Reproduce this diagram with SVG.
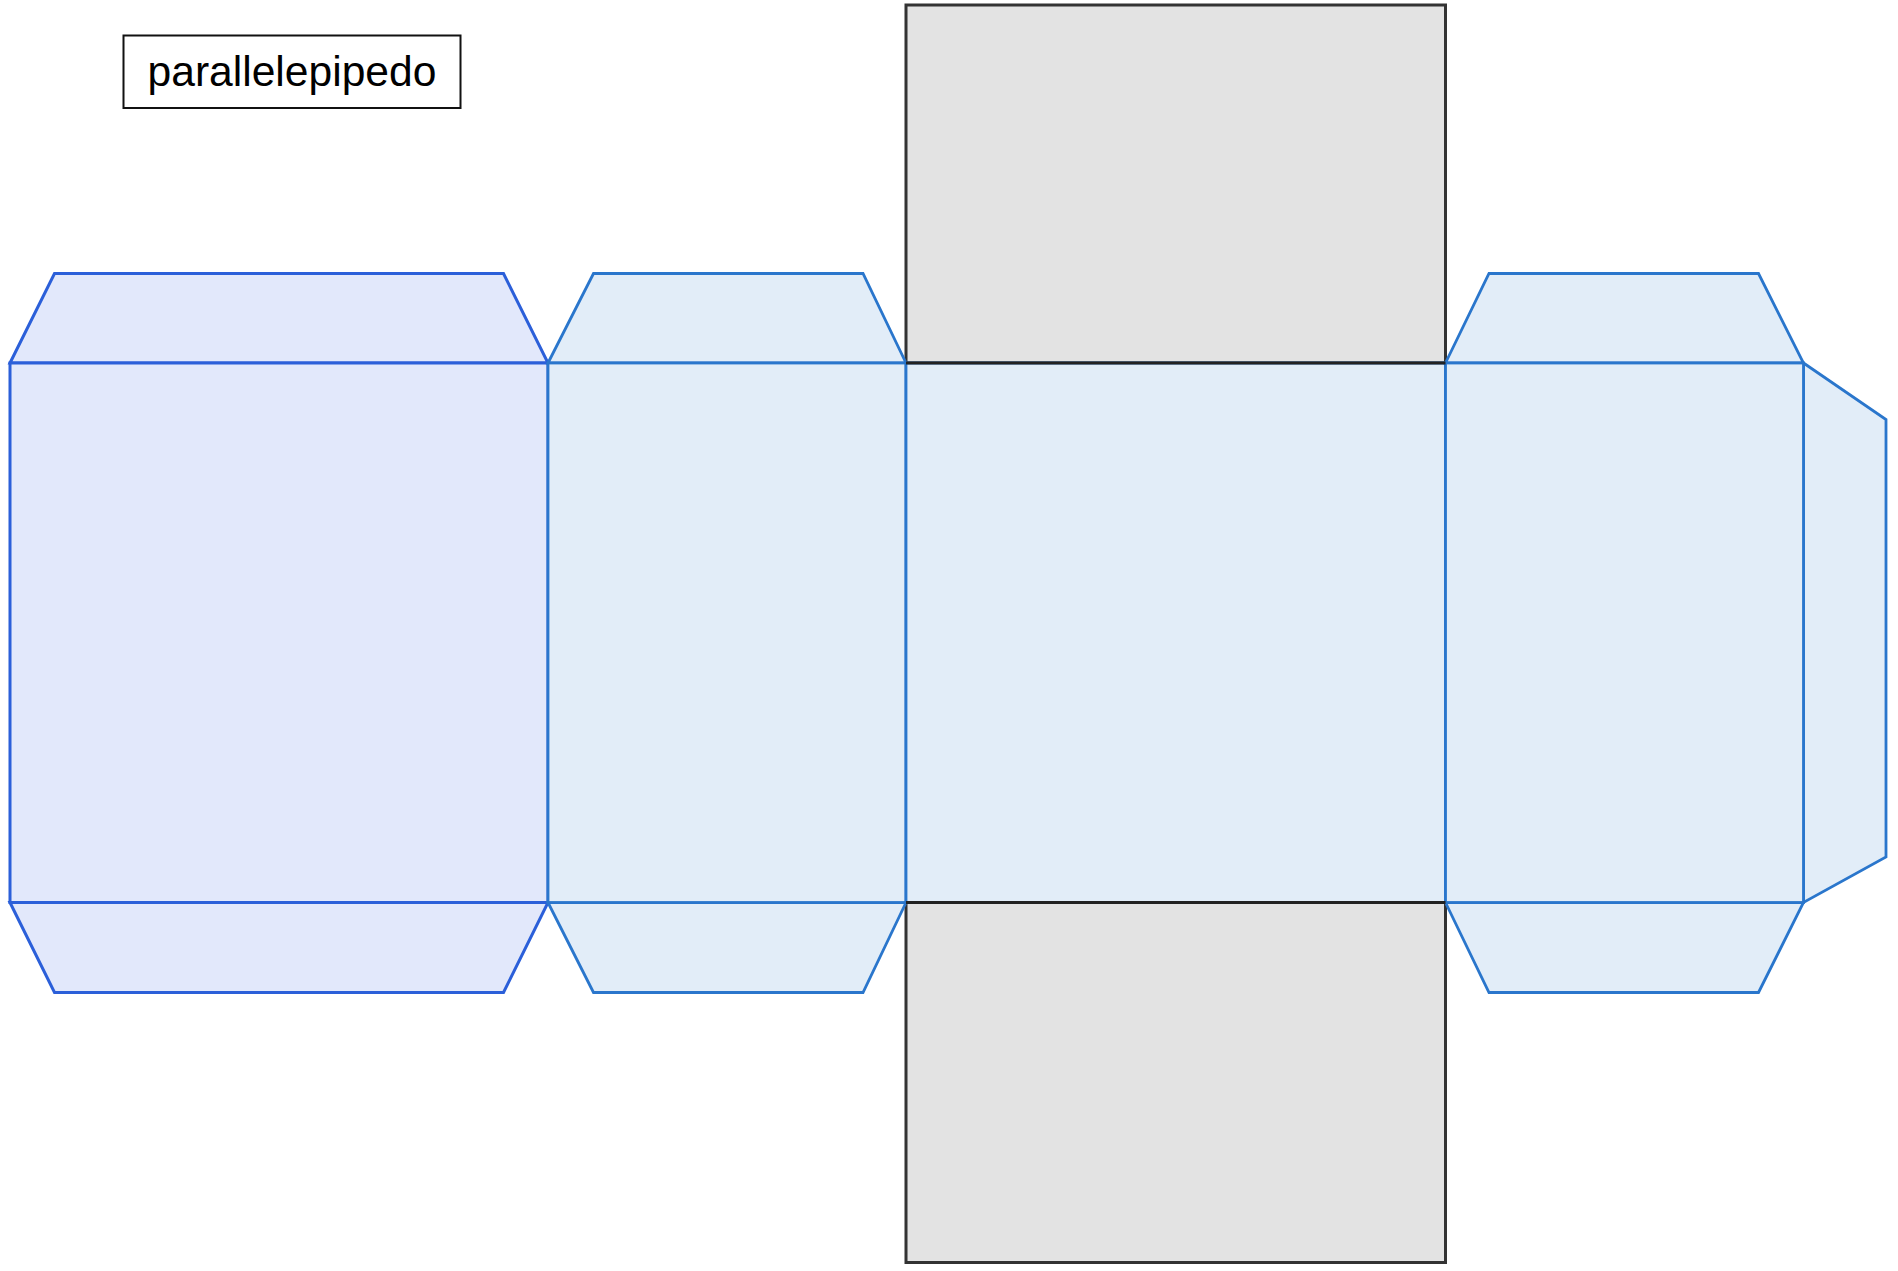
<svg xmlns="http://www.w3.org/2000/svg" width="1898" height="1271" viewBox="0 0 1898 1271">
<style>
.a{fill:#e2e8fb;stroke:#2b5fd9;stroke-width:3;stroke-linejoin:miter}
.b{fill:#e2edf8;stroke:#2a76cc;stroke-width:2.800;stroke-linejoin:miter}
.g{fill:#e3e3e3;stroke:#333333;stroke-width:3}
.l{font-family:"Liberation Sans",Arial,sans-serif;font-size:42.6px;fill:#000}
</style>
<rect width="1898" height="1271" fill="#fff"/>
<g id="label"><rect x="123.500" y="35.500" width="337" height="72.500" fill="#fff" stroke="#111" stroke-width="2"/><text class="l" x="147.500" y="86">parallelepipedo</text></g>
<g id="top-gray"><rect class="g" x="906" y="5" width="539.500" height="358"/></g>
<g id="bottom-gray"><rect class="g" x="906" y="902.500" width="539.500" height="360"/></g>
<g id="left-top-flap"><polygon class="a" points="10,363 54.500,273.500 503.500,273.500 548,363"/></g>
<g id="left-bottom-flap"><polygon class="a" points="10,902.500 54.500,992.500 503.500,992.500 548,902.500"/></g>
<g id="left-face"><rect class="a" x="10" y="363" width="538" height="539.500"/></g>
<g id="second-top-flap"><polygon class="b" points="548,363 593.500,273.500 863,273.500 906,363"/></g>
<g id="second-bottom-flap"><polygon class="b" points="548,902.500 593.500,992.500 863,992.500 906,902.500"/></g>
<g id="second-face"><rect class="b" x="548" y="363" width="358" height="539.500"/></g>
<g id="center-face"><rect class="b" x="906" y="363" width="539.500" height="539.500"/></g>
<g id="fourth-top-flap"><polygon class="b" points="1445.500,363 1489,273.500 1758.500,273.500 1803.500,363"/></g>
<g id="fourth-bottom-flap"><polygon class="b" points="1445.500,902.500 1489,992.500 1758.500,992.500 1803.500,902.500"/></g>
<g id="side-flap"><polygon class="b" points="1803.500,363 1886,419.500 1886,857 1803.500,902.500"/></g>
<g id="fourth-face"><rect class="b" x="1445.500" y="363" width="358" height="539.500"/></g>
<g id="center-edges" fill="none" stroke="#222" stroke-width="3"><path d="M906 363H1445.500M906 902.500H1445.500"/></g>
</svg>
